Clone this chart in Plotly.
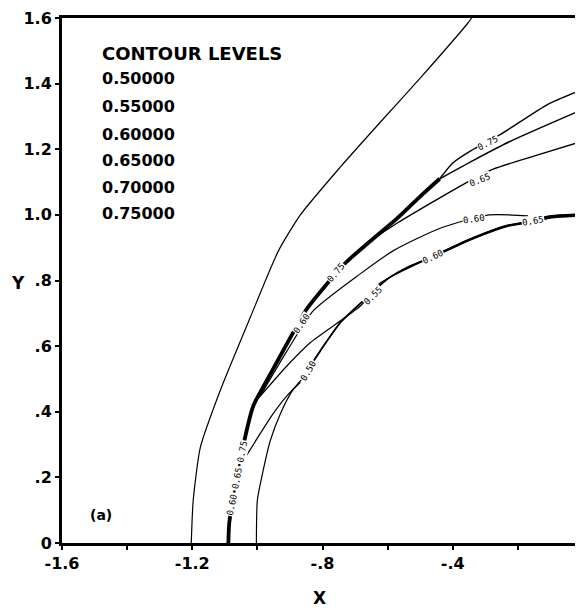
import plotly.graph_objects as go

# ---- contour lines (data coordinates) ----
outer_x = [-1.203, -1.197, -1.175, -1.114, -1.022, -0.935, -0.868, -0.745, -0.622, -0.498, -0.354, -0.342]
outer_y = [0.000, 0.131, 0.292, 0.465, 0.687, 0.891, 1.000, 1.146, 1.283, 1.419, 1.584, 1.600]

circle_x = [-1.003, -1.000, -0.982, -0.960, -0.929, -0.892, -0.862, -0.806, -0.745, -0.674, -0.600, -0.529, -0.462, -0.437, -0.335, -0.231, -0.160, -0.098, 0.000]
circle_y = [0.000, 0.131, 0.222, 0.313, 0.395, 0.465, 0.502, 0.587, 0.672, 0.739, 0.805, 0.845, 0.872, 0.884, 0.930, 0.967, 0.979, 0.994, 1.000]

thick_x = [-1.089, -1.086, -1.037, -1.012, -0.954, -0.892, -0.852, -0.791, -0.729, -0.652, -0.569, -0.498, -0.440]
thick_y = [0.000, 0.064, 0.325, 0.419, 0.526, 0.638, 0.708, 0.784, 0.854, 0.921, 0.991, 1.058, 1.110]

g_x = [-1.037, -0.991, -0.951, -0.908, -0.868]
g_y = [0.261, 0.334, 0.395, 0.450, 0.490]

f_x = [-0.998, -0.908, -0.837, -0.683, -0.622, -0.508, -0.462]
f_y = [0.440, 0.541, 0.611, 0.723, 0.793, 0.851, 0.872]

d_x = [-0.990, -0.908, -0.828, -0.683, -0.582, -0.437, -0.289, -0.169]
d_y = [0.450, 0.587, 0.708, 0.821, 0.891, 0.960, 1.000, 0.997]

c_x = [-0.662, -0.569, -0.366, -0.274, -0.151, 0.000]
c_y = [0.915, 0.976, 1.094, 1.140, 1.179, 1.225]

a_x = [-0.440, -0.400, -0.345, -0.252, -0.108, 0.000]
a_y = [1.110, 1.158, 1.195, 1.246, 1.337, 1.383]

b_x = [-0.440, -0.335, -0.222, 0.000]
b_y = [1.110, 1.167, 1.225, 1.322]

# ---- inline contour labels ----
lab_text = ["0.60\u20220.65\u20220.75", "0.60", "0.75", "0.75", "0.65", "0.60", "0.50", "0.55", "0.60", "0.65"]
lab_x = [-1.062, -0.862, -0.760, -0.292, -0.317, -0.335, -0.843, -0.646, -0.462, -0.154]
lab_y = [0.198, 0.669, 0.824, 1.219, 1.106, 0.988, 0.523, 0.754, 0.872, 0.982]
lab_ang = [-79, -55, -50, -27, -22, -8, -60, -45, -25, -10]

# ---- legend block ----
levels_title = "CONTOUR LEVELS"
levels = ["0.50000", "0.55000", "0.60000", "0.65000", "0.70000", "0.75000"]
levels_y = [1.416, 1.331, 1.246, 1.167, 1.082, 1.003]

x_ticks = [-1.6, -1.4, -1.2, -1.0, -0.8, -0.6, -0.4, -0.2, 0.0]
x_ticktext = ["-1.6", "", "-1.2", "", "-.8", "", "-.4", "", "0"]
y_ticks = [0, 0.2, 0.4, 0.6, 0.8, 1.0, 1.2, 1.4, 1.6]
y_ticktext = ["0", ".2", ".4", ".6", ".8", "1.0", "1.2", "1.4", "1.6"]

fig = go.Figure()


def add_line(x, y, w):
    fig.add_trace(go.Scatter(x=x, y=y, mode="lines",
                             line=dict(color="black", width=w, shape="spline", smoothing=0.6),
                             hoverinfo="skip", showlegend=False, cliponaxis=True))


add_line(outer_x, outer_y, 1.2)
add_line(circle_x, circle_y, 1.2)
add_line(circle_x[6:], circle_y[6:], 1.8)
add_line(circle_x[12:], circle_y[12:], 2.6)
add_line(circle_x[16:], circle_y[16:], 3.6)
add_line(g_x, g_y, 1.2)
add_line(f_x, f_y, 1.2)
add_line(d_x, d_y, 1.2)
add_line(c_x, c_y, 1.4)
add_line(a_x, a_y, 1.4)
add_line(b_x, b_y, 1.4)
add_line(thick_x, thick_y, 3.8)

lab_font = dict(family="DejaVu Sans Mono", size=9, color="black")
for t, x, y, a in zip(lab_text, lab_x, lab_y, lab_ang):
    fig.add_annotation(x=x, y=y, text=t, showarrow=False, textangle=a,
                       font=lab_font, bgcolor="white", borderpad=0)

bold = dict(family="DejaVu Sans", color="black", weight="bold")
fig.add_annotation(x=-1.483, y=1.492, text=levels_title, showarrow=False,
                   xanchor="left", yanchor="middle", font=dict(bold, size=18))
for t, y in zip(levels, levels_y):
    fig.add_annotation(x=-1.483, y=y, text=t, showarrow=False,
                       xanchor="left", yanchor="middle", font=dict(bold, size=16))
fig.add_annotation(x=-1.48, y=0.085, text="(a)", showarrow=False,
                   xanchor="center", yanchor="middle", font=dict(bold, size=14))
fig.add_annotation(x=0.495, y=-0.105, xref="paper", yref="paper", text="X",
                   xanchor="center", yanchor="middle",
                   showarrow=False, font=dict(bold, size=17))
fig.add_annotation(x=-0.0845, y=0.495, xref="paper", yref="paper", text="Y",
                   xanchor="center", yanchor="middle",
                   showarrow=False, font=dict(bold, size=17))

# the page body adds an 8px offset, so the figure is sized to fill the rest of the window
fig.update_layout(
    width=575, height=600,
    margin=dict(l=54, r=0, t=10, b=65, autoexpand=False),
    paper_bgcolor="white", plot_bgcolor="white",
    showlegend=False,
    xaxis=dict(range=[-1.6, 0.0], showline=True, linewidth=3, linecolor="black",
               mirror=True, ticks="outside", ticklen=4, tickwidth=2, tickcolor="black",
               tickvals=x_ticks, ticktext=x_ticktext, showgrid=False, zeroline=False,
               tickfont=dict(bold, size=16), automargin=False, ticklabeloverflow="allow"),
    yaxis=dict(range=[0, 1.6], showline=True, linewidth=3, linecolor="black",
               ticks="outside", ticklen=4, tickwidth=2, tickcolor="black",
               tickvals=y_ticks, ticktext=y_ticktext, showgrid=False, zeroline=False,
               tickfont=dict(bold, size=16), automargin=False, ticklabeloverflow="allow"),
)

fig.write_html("out.html")
